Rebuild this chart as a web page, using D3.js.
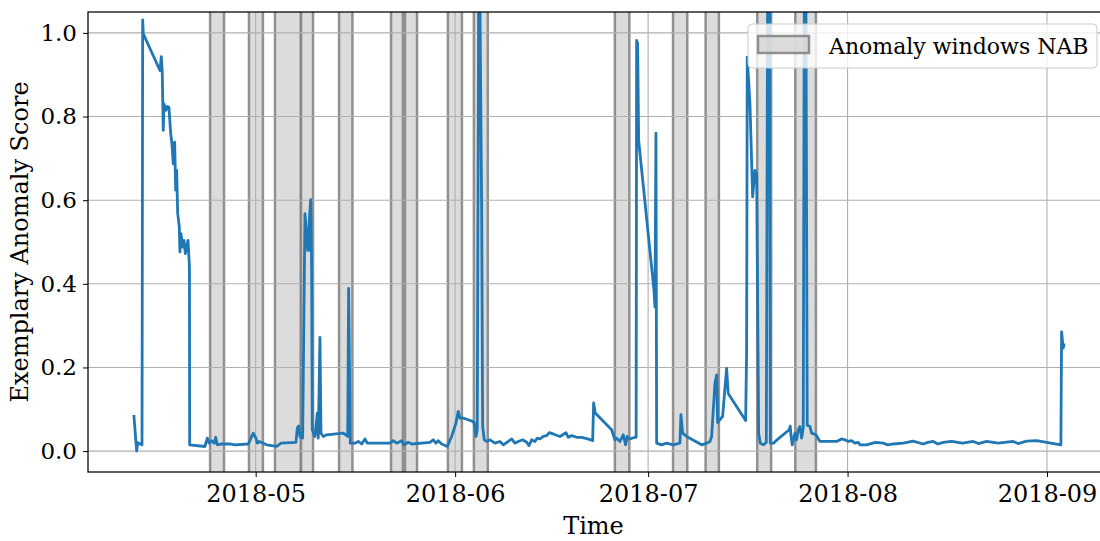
<!DOCTYPE html>
<html>
<head>
<meta charset="utf-8">
<script src="https://cdn.jsdelivr.net/npm/d3@7"></script>
<style>
  html, body { margin: 0; padding: 0; background: #fff; }
  svg { display: block; }
  text { font-family: "DejaVu Serif", serif; fill: #000; }
</style>
</head>
<body>
<svg id="chart" width="1100" height="541"></svg>
<script>
// Exemplary anomaly score over time
const scoreTimes = [
  "2018-04-12 02:00","2018-04-12 12:00","2018-04-12 16:00","2018-04-13 08:00","2018-04-13 10:30","2018-04-13 12:45",
  "2018-04-16 03:00","2018-04-16 08:00","2018-04-16 11:30","2018-04-16 15:15","2018-04-16 18:00","2018-04-17 01:30",
  "2018-04-17 06:15","2018-04-17 12:30","2018-04-17 19:00","2018-04-17 23:45","2018-04-18 04:30","2018-04-18 09:45",
  "2018-04-18 13:40","2018-04-18 17:15","2018-04-18 21:00","2018-04-19 03:00","2018-04-19 05:30","2018-04-19 09:20",
  "2018-04-19 15:40","2018-04-19 20:40","2018-04-20 01:30","2018-04-20 11:30","2018-04-20 16:20","2018-04-20 17:00",
  "2018-04-20 17:45","2018-04-23 03:00","2018-04-23 11:30","2018-04-23 19:00","2018-04-24 04:00","2018-04-24 13:40",
  "2018-04-24 18:45","2018-04-25 00:45","2018-04-25 17:15","2018-04-27 00:15","2018-04-27 18:45","2018-04-29 20:30",
  "2018-04-30 15:00","2018-05-01 01:00","2018-05-01 06:00","2018-05-01 13:30","2018-05-02 17:00","2018-05-04 06:15",
  "2018-05-04 22:20","2018-05-07 06:20","2018-05-07 11:15","2018-05-07 16:20","2018-05-07 21:20","2018-05-08 07:15",
  "2018-05-08 15:50","2018-05-08 22:15","2018-05-09 02:00","2018-05-09 05:45","2018-05-09 08:00","2018-05-09 13:10",
  "2018-05-09 16:50","2018-05-09 19:10","2018-05-10 05:15","2018-05-10 13:45","2018-05-10 17:30","2018-05-10 23:50",
  "2018-05-11 03:40","2018-05-11 12:15","2018-05-12 01:00","2018-05-14 15:00","2018-05-15 07:15","2018-05-15 10:50",
  "2018-05-15 16:50","2018-05-16 10:20","2018-05-16 22:45","2018-05-17 11:30","2018-05-17 23:50","2018-05-18 08:25",
  "2018-05-21 21:00","2018-05-22 09:20","2018-05-22 21:50","2018-05-23 16:30","2018-05-24 01:10","2018-05-24 17:15",
  "2018-05-25 06:00","2018-05-28 02:10","2018-05-28 14:25","2018-05-29 00:30","2018-05-29 09:05","2018-05-29 21:50",
  "2018-05-30 18:45","2018-05-31 11:00","2018-06-01 03:10","2018-06-01 11:45","2018-06-01 18:00","2018-06-02 06:25",
  "2018-06-03 17:30","2018-06-03 23:30","2018-06-04 05:45","2018-06-04 10:35","2018-06-04 15:50","2018-06-04 20:40",
  "2018-06-05 03:05","2018-06-05 06:45","2018-06-05 12:45","2018-06-05 21:40","2018-06-06 10:00","2018-06-07 04:35",
  "2018-06-07 23:15","2018-06-08 11:35","2018-06-09 06:10","2018-06-09 18:55","2018-06-10 07:15","2018-06-10 19:30",
  "2018-06-11 12:00","2018-06-12 03:00","2018-06-12 11:30","2018-06-12 21:35","2018-06-13 09:55","2018-06-13 18:30",
  "2018-06-14 04:30","2018-06-14 16:50","2018-06-15 05:30","2018-06-15 15:10","2018-06-16 06:00","2018-06-17 07:10",
  "2018-06-18 05:30","2018-06-18 14:10","2018-06-19 02:40","2018-06-19 21:20","2018-06-20 16:00","2018-06-21 10:45",
  "2018-06-22 02:40","2018-06-22 09:05","2018-06-22 12:45","2018-06-22 18:45","2018-06-25 08:00","2018-06-25 20:10",
  "2018-06-26 02:40","2018-06-26 15:00","2018-06-27 03:10","2018-06-27 12:15","2018-06-27 18:10","2018-06-28 04:20",
  "2018-06-28 22:50","2018-06-29 03:20","2018-06-29 05:10","2018-06-29 08:55","2018-06-29 12:40","2018-07-01 21:50",
  "2018-07-02 01:30","2018-07-02 05:15","2018-07-02 07:50","2018-07-03 02:25","2018-07-03 21:05","2018-07-04 21:40",
  "2018-07-05 22:35","2018-07-06 02:25","2018-07-06 08:50","2018-07-06 23:45","2018-07-09 07:40","2018-07-10 02:25",
  "2018-07-10 14:40","2018-07-10 20:55","2018-07-11 09:20","2018-07-11 15:35","2018-07-11 19:25","2018-07-12 03:50",
  "2018-07-12 14:00","2018-07-12 20:00","2018-07-13 04:50","2018-07-13 10:50","2018-07-16 03:50","2018-07-16 07:30",
  "2018-07-16 09:50","2018-07-16 19:55","2018-07-17 06:00","2018-07-17 14:40","2018-07-17 20:55","2018-07-18 04:20",
  "2018-07-18 10:35","2018-07-18 22:50","2018-07-19 08:55","2018-07-19 13:40","2018-07-19 21:05","2018-07-19 23:45",
  "2018-07-20 12:00","2018-07-21 00:45","2018-07-22 22:20","2018-07-23 02:10","2018-07-23 04:50","2018-07-23 09:35",
  "2018-07-23 19:40","2018-07-24 02:00","2018-07-24 08:00","2018-07-24 14:25","2018-07-24 20:40","2018-07-25 02:40",
  "2018-07-25 06:30","2018-07-25 12:45","2018-07-25 17:35","2018-07-26 03:35","2018-07-26 10:00","2018-07-27 02:00",
  "2018-07-27 17:00","2018-07-30 07:10","2018-07-31 01:55","2018-07-31 14:10","2018-08-01 02:25","2018-08-01 15:05",
  "2018-08-02 03:25","2018-08-02 15:50","2018-08-02 22:05","2018-08-03 23:00","2018-08-05 08:00","2018-08-06 13:00",
  "2018-08-07 06:00","2018-08-08 02:25","2018-08-09 15:40","2018-08-11 04:00","2018-08-12 18:15","2018-08-13 12:00",
  "2018-08-14 07:30","2018-08-15 01:00","2018-08-15 20:50","2018-08-17 04:05","2018-08-18 21:00","2018-08-20 12:40",
  "2018-08-21 08:00","2018-08-22 14:40","2018-08-24 10:00","2018-08-26 18:00","2018-08-27 12:00","2018-08-28 20:00",
  "2018-08-30 09:20","2018-08-31 22:35","2018-09-03 03:50","2018-09-03 06:30","2018-09-03 12:25","2018-09-03 15:00"
];
const scoreValues = [
  0.083, 0.000, 0.020, 0.015, 1.031, 0.998,
  0.910, 0.943, 0.906, 0.767, 0.830, 0.815,
  0.824, 0.822, 0.759, 0.735, 0.687, 0.739,
  0.624, 0.671, 0.569, 0.536, 0.476, 0.520,
  0.488, 0.504, 0.472, 0.504, 0.449, 0.425,
  0.015, 0.011, 0.031, 0.019, 0.025, 0.019,
  0.033, 0.015, 0.017, 0.017, 0.015, 0.017,
  0.043, 0.031, 0.019, 0.023, 0.015, 0.011,
  0.019, 0.021, 0.055, 0.060, 0.035, 0.031,
  0.568, 0.520, 0.480, 0.480, 0.552, 0.601,
  0.440, 0.051, 0.035, 0.091, 0.031, 0.272,
  0.043, 0.035, 0.039, 0.043, 0.035, 0.389,
  0.019, 0.019, 0.023, 0.017, 0.029, 0.019,
  0.019, 0.025, 0.019, 0.025, 0.015, 0.021,
  0.017, 0.021, 0.027, 0.019, 0.025, 0.017,
  0.011, 0.035, 0.067, 0.095, 0.079, 0.079,
  0.071, 0.067, 0.035, 0.051, 1.070, 1.070,
  0.576, 0.059, 0.027, 0.023, 0.027, 0.019,
  0.023, 0.015, 0.023, 0.029, 0.019, 0.023,
  0.027, 0.021, 0.013, 0.027, 0.023, 0.031,
  0.029, 0.035, 0.037, 0.044, 0.041, 0.035,
  0.044, 0.033, 0.037, 0.033, 0.033, 0.030,
  0.027, 0.025, 0.115, 0.091, 0.051, 0.027,
  0.031, 0.023, 0.039, 0.015, 0.035, 0.029,
  0.033, 0.033, 0.982, 0.975, 0.743, 0.385,
  0.345, 0.760, 0.019, 0.015, 0.019, 0.015,
  0.019, 0.087, 0.043, 0.035, 0.015, 0.019,
  0.023, 0.035, 0.162, 0.182, 0.068, 0.075,
  0.083, 0.130, 0.198, 0.138, 0.073, 0.242,
  0.942, 0.830, 0.608, 0.671, 0.663, 0.043,
  0.019, 0.015, 0.021, 1.070, 1.070, 0.019,
  0.019, 0.027, 0.051, 0.060, 0.039, 0.015,
  0.043, 0.027, 0.051, 0.059, 0.031, 0.055,
  1.070, 1.070, 0.062, 0.059, 0.043, 0.039,
  0.023, 0.023, 0.029, 0.027, 0.023, 0.025,
  0.019, 0.021, 0.015, 0.015, 0.021, 0.019,
  0.015, 0.017, 0.019, 0.024, 0.017, 0.021,
  0.023, 0.017, 0.021, 0.023, 0.019, 0.023,
  0.018, 0.023, 0.019, 0.023, 0.018, 0.024,
  0.025, 0.021, 0.015, 0.285, 0.246, 0.254
];

// NAB anomaly windows (start / end)
const windowStarts = [
  "2018-04-23 22:00","2018-04-29 23:00","2018-05-04 00:00","2018-05-08 01:00","2018-05-13 23:00",
  "2018-05-22 01:00","2018-05-24 05:00","2018-05-30 21:00","2018-06-03 22:00","2018-06-25 20:00",
  "2018-07-04 21:00","2018-07-09 22:30","2018-07-17 23:00","2018-07-23 21:00"
];
const windowEnds = [
  "2018-04-26 02:00","2018-05-02 03:00","2018-05-08 01:00","2018-05-09 22:00","2018-05-16 01:00",
  "2018-05-23 21:00","2018-05-26 02:00","2018-06-02 01:30","2018-06-06 02:00","2018-06-28 02:00",
  "2018-07-07 02:00","2018-07-12 00:00","2018-07-20 03:00","2018-07-27 02:00"
];

const xTickLabels = ["2018-05","2018-06","2018-07","2018-08","2018-09"];
const yTickValues = [0.0, 0.2, 0.4, 0.6, 0.8, 1.0];
const xDomain = ["2018-04-04 22:30","2018-09-10 15:20"];
const yDomain = [-0.05, 1.05];

const parseTime = d3.timeParse("%Y-%m-%d %H:%M");
const parseMonth = d3.timeParse("%Y-%m");

const svg = d3.select("#chart");
const plot = { left: 88, right: 1109, top: 12, bottom: 472 };

const x = d3.scaleTime()
  .domain(xDomain.map(parseTime))
  .range([plot.left, plot.right]);
const y = d3.scaleLinear()
  .domain(yDomain)
  .range([plot.bottom, plot.top]);

svg.append("defs").append("clipPath").attr("id", "plot-clip")
  .append("rect")
  .attr("x", plot.left).attr("y", plot.top)
  .attr("width", plot.right - plot.left).attr("height", plot.bottom - plot.top);

const inner = svg.append("g").attr("clip-path", "url(#plot-clip)");

// anomaly windows
const windows = windowStarts.map((s, i) => ({ start: parseTime(s), end: parseTime(windowEnds[i]) }));
inner.append("g").selectAll("rect").data(windows).join("rect")
  .attr("x", d => x(d.start))
  .attr("width", d => x(d.end) - x(d.start))
  .attr("y", plot.top - 5)
  .attr("height", plot.bottom - plot.top + 10)
  .attr("fill", "#d3d3d3").attr("fill-opacity", 0.8)
  .attr("stroke", "#808080").attr("stroke-opacity", 0.85)
  .attr("stroke-width", 2.5);

// grid
const monthTicks = xTickLabels.map(parseMonth);
const grid = inner.append("g").attr("stroke", "#b0b0b0").attr("stroke-width", 1.1);
grid.selectAll("line.gx").data(monthTicks).join("line").attr("class", "gx")
  .attr("x1", d => x(d)).attr("x2", d => x(d))
  .attr("y1", plot.top).attr("y2", plot.bottom);
grid.selectAll("line.gy").data(yTickValues).join("line").attr("class", "gy")
  .attr("x1", plot.left).attr("x2", plot.right)
  .attr("y1", d => y(d)).attr("y2", d => y(d));

// score line
const series = scoreTimes.map((t, i) => ({ t: parseTime(t), v: scoreValues[i] }));
inner.append("path")
  .datum(series)
  .attr("fill", "none")
  .attr("stroke", "#1f77b4")
  .attr("stroke-width", 2.8)
  .attr("stroke-linejoin", "round")
  .attr("stroke-linecap", "square")
  .attr("d", d3.line().x(d => x(d.t)).y(d => y(d.v)));

// axes
const xAxis = d3.axisBottom(x)
  .tickValues(monthTicks)
  .tickFormat(d3.timeFormat("%Y-%m"))
  .tickSize(5).tickPadding(8);
const gx = svg.append("g").attr("transform", `translate(0,${plot.bottom})`).call(xAxis);
gx.select(".domain").remove();
gx.selectAll(".tick line").attr("stroke", "#000").attr("stroke-width", 1);
gx.selectAll(".tick text").attr("font-size", 24).attr("font-family", "DejaVu Serif");

const yAxis = d3.axisLeft(y)
  .tickValues(yTickValues)
  .tickFormat(d3.format(".1f"))
  .tickSize(5).tickPadding(6);
const gy = svg.append("g").attr("transform", `translate(${plot.left},0)`).call(yAxis);
gy.select(".domain").remove();
gy.selectAll(".tick line").attr("stroke", "#000").attr("stroke-width", 1);
gy.selectAll(".tick text").attr("font-size", 23).attr("font-family", "DejaVu Serif");

// frame
svg.append("rect")
  .attr("x", plot.left).attr("y", plot.top)
  .attr("width", plot.right - plot.left).attr("height", plot.bottom - plot.top)
  .attr("fill", "none").attr("stroke", "#000").attr("stroke-width", 1.25);

// axis titles
svg.append("text")
  .attr("x", (plot.left + plot.right) / 2 - 5).attr("y", 534)
  .attr("text-anchor", "middle").attr("font-size", 24)
  .text("Time");
svg.append("text")
  .attr("transform", `translate(28,${(plot.top + plot.bottom) / 2}) rotate(-90)`)
  .attr("text-anchor", "middle").attr("font-size", 24)
  .text("Exemplary Anomaly Score");

// legend
const legend = svg.append("g");
legend.append("rect")
  .attr("x", 748).attr("y", 24).attr("width", 349).attr("height", 44)
  .attr("rx", 4).attr("ry", 4)
  .attr("fill", "#fff").attr("fill-opacity", 0.8)
  .attr("stroke", "#cccccc").attr("stroke-width", 1);
legend.append("rect")
  .attr("x", 758).attr("y", 36).attr("width", 51).attr("height", 17)
  .attr("fill", "#d3d3d3").attr("fill-opacity", 0.8)
  .attr("stroke", "#808080").attr("stroke-opacity", 0.85).attr("stroke-width", 2.5);
legend.append("text")
  .attr("x", 829).attr("y", 54)
  .attr("font-size", 22)
  .text("Anomaly windows NAB");
</script>
</body>
</html>
